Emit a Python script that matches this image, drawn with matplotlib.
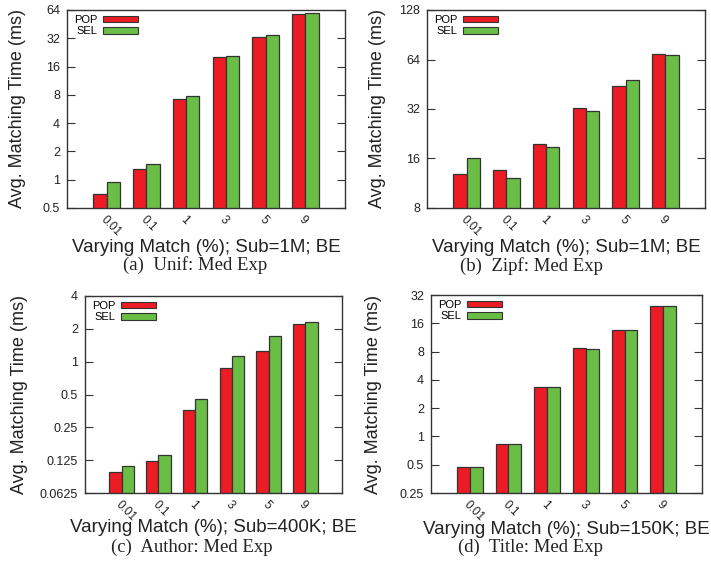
import numpy as np
import matplotlib
matplotlib.use("Agg")
import matplotlib.pyplot as plt
from matplotlib.patches import Patch

W, H = 711, 566

cats = ["0.01", "0.1", "1", "3", "5", "9"]

unif_pop = [0.70, 1.30, 7.2, 20.2, 32.9, 58.3]
unif_sel = [0.94, 1.48, 7.8, 20.7, 34.3, 59.7]
zipf_pop = [12.9, 13.6, 19.6, 32.5, 44.2, 69.1]
zipf_sel = [16.0, 12.1, 18.7, 31.1, 47.8, 67.9]
author_pop = [0.098, 0.124, 0.363, 0.87, 1.25, 2.2]
author_sel = [0.110, 0.138, 0.457, 1.12, 1.71, 2.3]
title_pop = [0.468, 0.824, 3.38, 8.7, 13.7, 24.4]
title_sel = [0.475, 0.835, 3.32, 8.6, 13.7, 24.4]

unif_ticks = [0.5, 1, 2, 4, 8, 16, 32, 64]
zipf_ticks = [8, 16, 32, 64, 128]
author_ticks = [0.0625, 0.125, 0.25, 0.5, 1, 2, 4]
title_ticks = [0.25, 0.5, 1, 2, 4, 8, 16, 32]

xlabels = ["Varying Match (%); Sub=1M; BE",
           "Varying Match (%); Sub=1M; BE",
           "Varying Match (%); Sub=400K; BE",
           "Varying Match (%); Sub=150K; BE"]
captions = ["(a)  Unif: Med Exp", "(b)  Zipf: Med Exp",
            "(c)  Author: Med Exp", "(d)  Title: Med Exp"]

RED = "#ec1c24"
GREEN = "#6abd45"
EDGE = "#333333"
SANS = ["Liberation Sans", "DejaVu Sans"]
SERIF = ["Liberation Serif", "DejaVu Serif"]

plt.rcParams["font.family"] = SANS

# panel boxes in pixels: left, top, right, bottom
boxes = [(67, 10, 345, 208), (427, 10, 705, 208),
         (85, 296, 342, 493), (431, 295, 702, 493)]
ylab_x = [18, 378, 20, 373]
xlab_pos = [(206, 247), (566, 247), (213, 528), (566, 529)]
cap_pos = [(195, 265), (532, 266), (192, 547), (530, 547)]

panels = [(unif_pop, unif_sel, unif_ticks),
          (zipf_pop, zipf_sel, zipf_ticks),
          (author_pop, author_sel, author_ticks),
          (title_pop, title_sel, title_ticks)]

fig = plt.figure(figsize=(W / 100, H / 100), dpi=100)

for i, (pop, sel, ticks) in enumerate(panels):
    l, t, r, b = boxes[i]
    ax = fig.add_axes([l / W, 1 - b / H, (r - l) / W, (b - t) / H])
    x = np.arange(len(cats))
    ax.bar(x - 0.1667, pop, width=0.333, color=RED, edgecolor=EDGE, linewidth=0.9, label="POP")
    ax.bar(x + 0.1667, sel, width=0.333, color=GREEN, edgecolor=EDGE, linewidth=0.9, label="SEL")
    ax.set_yscale("log", base=2)
    ax.set_ylim(ticks[0], ticks[-1])
    ax.set_xlim(-1, 6)
    ax.set_yticks(ticks)
    ax.set_yticklabels([f"{v:g}" for v in ticks])
    ax.minorticks_off()
    ax.tick_params(axis="y", direction="in", length=6, width=0.8, color=EDGE,
                   labelsize=9, right=True, pad=5, labelcolor="#222222")
    ax.set_xticks(x)
    ax.set_xticklabels(cats, rotation=-45, ha="left", va="top",
                       rotation_mode="anchor", fontsize=8.5, color="#222222")
    ax.tick_params(axis="x", length=0, pad=4)
    for s in ax.spines.values():
        s.set_color(EDGE)
        s.set_linewidth(1.0)

    handles = [Patch(facecolor=RED, edgecolor=EDGE, linewidth=0.8, label="POP"),
               Patch(facecolor=GREEN, edgecolor=EDGE, linewidth=0.8, label="SEL")]
    ax.legend(handles=handles, loc="upper left", frameon=False, markerfirst=False,
              fontsize=8, handlelength=3.1, handleheight=0.55, handletextpad=0.55,
              labelspacing=0.1, borderpad=0, borderaxespad=0,
              bbox_to_anchor=(7 / (r - l), 1 - 5 / (b - t)))

    fig.text(ylab_x[i] / W, 1 - ((t + b) / 2) / H, "Avg. Matching Time (ms)",
             rotation=90, ha="center", va="center", fontsize=13, color="#222222")
    fig.text(xlab_pos[i][0] / W, 1 - xlab_pos[i][1] / H, xlabels[i],
             ha="center", va="center", fontsize=13.5, color="#222222")
    fig.text(cap_pos[i][0] / W, 1 - cap_pos[i][1] / H, captions[i],
             ha="center", va="center", fontsize=13.5, family=SERIF, color="#222222")

fig.savefig("out.png", dpi=100)
